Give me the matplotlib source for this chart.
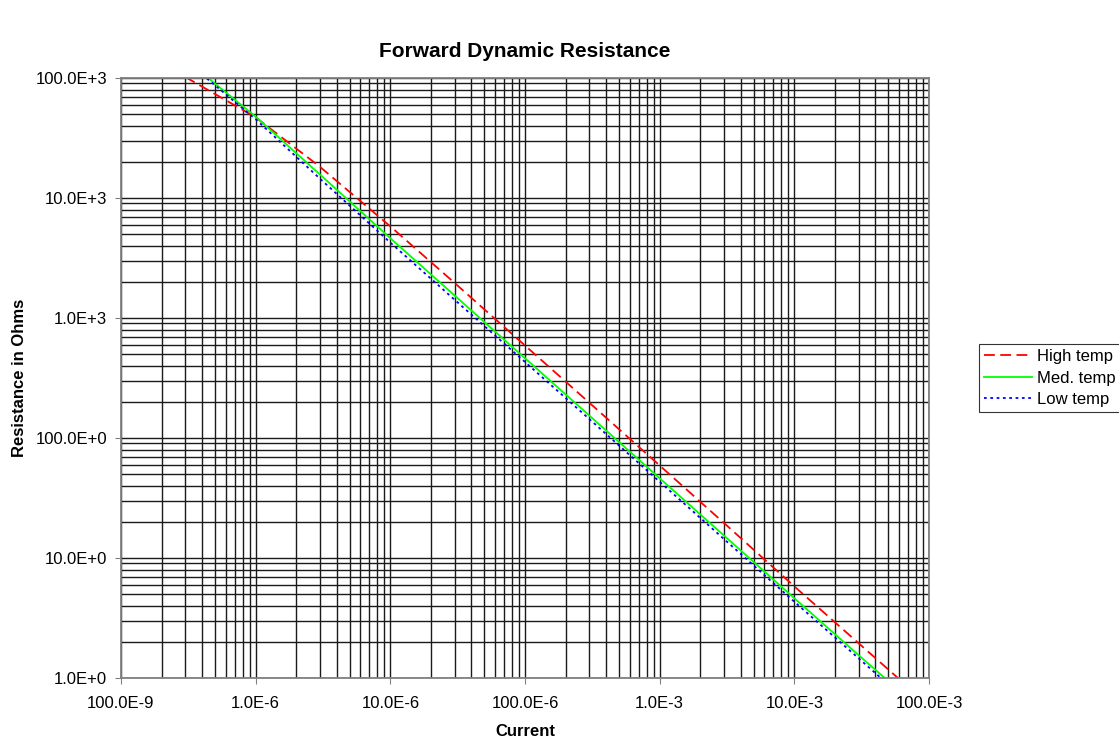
import matplotlib
matplotlib.use("Agg")
import matplotlib.pyplot as plt
from matplotlib.ticker import FixedLocator, LogLocator, NullFormatter

plt.rcParams["font.family"] = ["Liberation Sans", "DejaVu Sans"]

# current (A) and dynamic resistance (Ohm) per curve
current_high = [3.0e-7, 1.0e-6, 3.0e-6, 1.0e-5, 3.0e-5, 1.0e-4, 3.0e-4, 1.0e-3, 3.0e-3, 1.0e-2, 3.0e-2, 6.0e-2]
r_high = [102000, 47000, 18200, 5800, 1960, 590, 197, 59, 19.6, 5.8, 1.95, 0.98]

current_med = [4.0e-7, 1.0e-6, 3.0e-6, 1.0e-5, 3.0e-5, 1.0e-4, 3.0e-4, 1.0e-3, 3.0e-3, 1.0e-2, 3.0e-2, 5.0e-2]
r_med = [110000, 47600, 15700, 4620, 1540, 462, 154, 46.2, 15.4, 4.62, 1.55, 0.94]

current_low = [4.0e-7, 1.0e-6, 3.0e-6, 1.0e-5, 3.0e-5, 1.0e-4, 3.0e-4, 1.0e-3, 3.0e-3, 1.0e-2, 3.0e-2, 5.0e-2]
r_low = [107000, 45300, 14500, 4250, 1420, 430, 144, 43.2, 14.4, 4.32, 1.46, 0.88]

x_ticks = [1e-7, 1e-6, 1e-5, 1e-4, 1e-3, 1e-2, 1e-1]
x_tick_labels = ["100.0E-9", "1.0E-6", "10.0E-6", "100.0E-6", "1.0E-3", "10.0E-3", "100.0E-3"]
y_ticks = [1, 10, 100, 1e3, 1e4, 1e5]
y_tick_labels = ["1.0E+0", "10.0E+0", "100.0E+0", "1.0E+3", "10.0E+3", "100.0E+3"]

fig = plt.figure(figsize=(11.19, 7.40), dpi=100)
ax = fig.add_axes([121 / 1119, 1 - 678 / 740, (929 - 121) / 1119, (678 - 78) / 740])

ax.set_xscale("log")
ax.set_yscale("log")

ax.plot(current_high, r_high, color="#ff0000", lw=1.3, linestyle=(0, (6, 3)), label="High temp")
ax.plot(current_med, r_med, color="#00ff00", lw=1.3, linestyle="-", label="Med. temp")
ax.plot(current_low, r_low, color="#0000ff", lw=1.3, linestyle=(0, (1.5, 2)), label="Low temp")

ax.set_xlim(1e-7, 1e-1)
ax.set_ylim(1, 1e5)

ax.xaxis.set_major_locator(FixedLocator(x_ticks))
ax.set_xticklabels(x_tick_labels)
ax.yaxis.set_major_locator(FixedLocator(y_ticks))
ax.set_yticklabels(y_tick_labels)
ax.xaxis.set_minor_locator(LogLocator(base=10, subs=range(2, 10), numticks=20))
ax.yaxis.set_minor_locator(LogLocator(base=10, subs=range(2, 10), numticks=20))
ax.xaxis.set_minor_formatter(NullFormatter())
ax.yaxis.set_minor_formatter(NullFormatter())

ax.grid(True, which="both", color="#1a1a1a", lw=1.0)
ax.set_axisbelow(True)

for s in ax.spines.values():
    s.set_color("#808080")
    s.set_linewidth(1.3)
ax.tick_params(which="major", direction="out", length=4, color="#808080", labelsize=12)
ax.tick_params(axis="x", which="major", pad=9)
ax.tick_params(axis="y", which="major", pad=6)
ax.tick_params(which="minor", length=0)

ax.set_title("Forward Dynamic Resistance", fontsize=15, fontweight="bold", pad=15)
ax.set_xlabel("Current", fontsize=12, fontweight="bold", labelpad=9)
ax.set_ylabel("Resistance in Ohms", fontsize=12, fontweight="bold", labelpad=6)

leg = ax.legend(loc="center left", bbox_to_anchor=(1.062, 0.5), frameon=True, fancybox=False,
                edgecolor="black", fontsize=12, handlelength=2.9, handletextpad=0.3,
                borderpad=0.3, labelspacing=0.4, borderaxespad=0)
leg.get_frame().set_linewidth(0.8)

fig.savefig("out.png", dpi=100)
